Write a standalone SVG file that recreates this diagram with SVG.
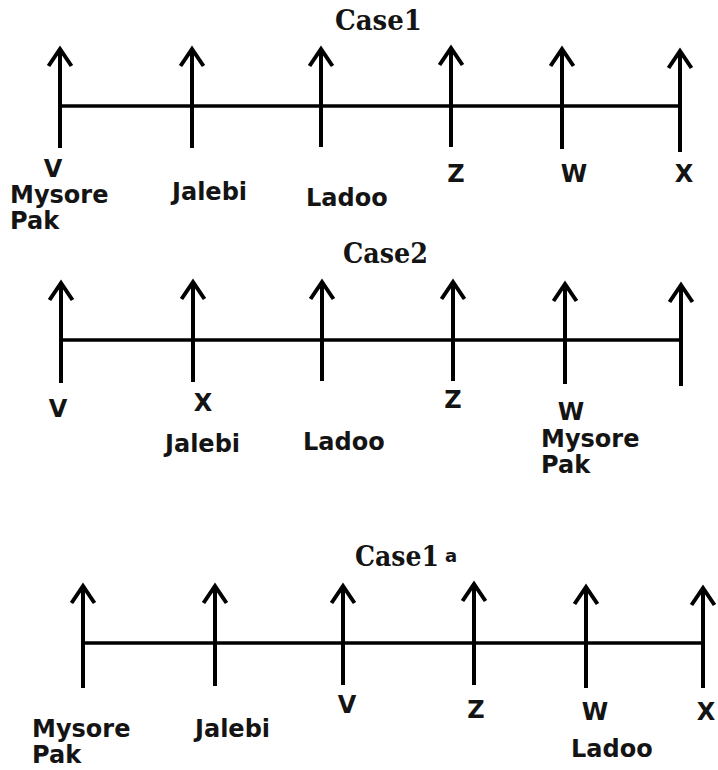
<svg xmlns="http://www.w3.org/2000/svg" width="718" height="770" viewBox="0 0 718 770">
<style>
.bg{fill:#fff}
.axis{stroke:#000;stroke-width:3.5;fill:none}
.tick{stroke:#000;stroke-width:4;fill:none;marker-end:url(#head)}
.lbl{font-family:"DejaVu Sans","Verdana",sans-serif;font-weight:bold;font-size:24px;fill:#141414}
.mid{text-anchor:middle}
.title{font-family:"DejaVu Serif","Liberation Serif",serif;font-weight:bold;font-size:27px;fill:#141414}
.sup{font-family:"DejaVu Sans",sans-serif;font-weight:bold;font-size:18px;fill:#141414}
</style>
<defs>
<marker id="head" markerUnits="userSpaceOnUse" markerWidth="40" markerHeight="40" refX="0" refY="0" orient="auto" overflow="visible" viewBox="-20 -20 40 40">
<path d="M-17,-11.5 L0,0 L-17,11.5" fill="none" stroke="#000" stroke-width="4" stroke-linejoin="miter"/>
</marker>
</defs>
<rect class="bg" x="0" y="0" width="718" height="770"/>

<g id="connectors">
<line class="axis" x1="60" y1="106" x2="680" y2="106"/>
<line class="axis" x1="61" y1="340" x2="681" y2="340"/>
<line class="axis" x1="83" y1="643" x2="703" y2="643"/>
</g>

<!-- Case 1 -->
<g id="case1">
<text class="title" x="335" y="30" textLength="87" lengthAdjust="spacingAndGlyphs">Case1</text>
<g id="c1-v"><line class="tick" x1="60" y1="148" x2="60" y2="49"/>
<text class="lbl mid" x="53" y="177">V</text>
<text class="lbl" x="10" y="203">Mysore</text>
<text class="lbl" x="10" y="229">Pak</text></g>
<g id="c1-jalebi"><line class="tick" x1="192" y1="148" x2="192" y2="49"/>
<text class="lbl" x="172" y="200">Jalebi</text></g>
<g id="c1-ladoo"><line class="tick" x1="321" y1="147" x2="321" y2="49"/>
<text class="lbl" x="306" y="206">Ladoo</text></g>
<g id="c1-z"><line class="tick" x1="451" y1="147" x2="451" y2="48"/>
<text class="lbl mid" x="456" y="182">Z</text></g>
<g id="c1-w"><line class="tick" x1="562" y1="149" x2="562" y2="49"/>
<text class="lbl mid" x="574" y="182">W</text></g>
<g id="c1-x"><line class="tick" x1="680" y1="152" x2="680" y2="51"/>
<text class="lbl mid" x="684" y="182">X</text></g>
</g>

<!-- Case 2 -->
<g id="case2">
<text class="title" x="343" y="263" textLength="85" lengthAdjust="spacingAndGlyphs">Case2</text>
<g id="c2-v"><line class="tick" x1="61" y1="383" x2="61" y2="283"/>
<text class="lbl mid" x="58" y="417">V</text></g>
<g id="c2-jalebi"><line class="tick" x1="193" y1="382" x2="193" y2="282"/>
<text class="lbl mid" x="203" y="411">X</text>
<text class="lbl" x="165" y="452">Jalebi</text></g>
<g id="c2-ladoo"><line class="tick" x1="322" y1="381" x2="322" y2="282"/>
<text class="lbl" x="303" y="450">Ladoo</text></g>
<g id="c2-z"><line class="tick" x1="453" y1="381" x2="453" y2="282"/>
<text class="lbl mid" x="453" y="408">Z</text></g>
<g id="c2-w"><line class="tick" x1="565" y1="384" x2="565" y2="284"/>
<text class="lbl mid" x="571" y="420">W</text>
<text class="lbl" x="541" y="447">Mysore</text>
<text class="lbl" x="541" y="473">Pak</text></g>
<g id="c2-end"><line class="tick" x1="681" y1="386" x2="681" y2="285"/></g>
</g>

<!-- Case 1a -->
<g id="case1a">
<text class="title" x="355" y="566" textLength="84" lengthAdjust="spacingAndGlyphs">Case1</text>
<text class="sup" x="445" y="562">a</text>
<g id="c1a-mysore"><line class="tick" x1="83" y1="688" x2="83" y2="586"/>
<text class="lbl" x="32" y="737">Mysore</text>
<text class="lbl" x="32" y="763">Pak</text></g>
<g id="c1a-jalebi"><line class="tick" x1="215" y1="686" x2="215" y2="586"/>
<text class="lbl" x="195" y="737">Jalebi</text></g>
<g id="c1a-v"><line class="tick" x1="343" y1="685" x2="343" y2="586"/>
<text class="lbl mid" x="347" y="713">V</text></g>
<g id="c1a-z"><line class="tick" x1="474" y1="685" x2="474" y2="584"/>
<text class="lbl mid" x="476" y="718">Z</text></g>
<g id="c1a-w"><line class="tick" x1="586" y1="688" x2="586" y2="587"/>
<text class="lbl mid" x="595" y="720">W</text>
<text class="lbl" x="571" y="757">Ladoo</text></g>
<g id="c1a-x"><line class="tick" x1="703" y1="688" x2="703" y2="588"/>
<text class="lbl mid" x="706" y="720">X</text></g>
</g>
</svg>
